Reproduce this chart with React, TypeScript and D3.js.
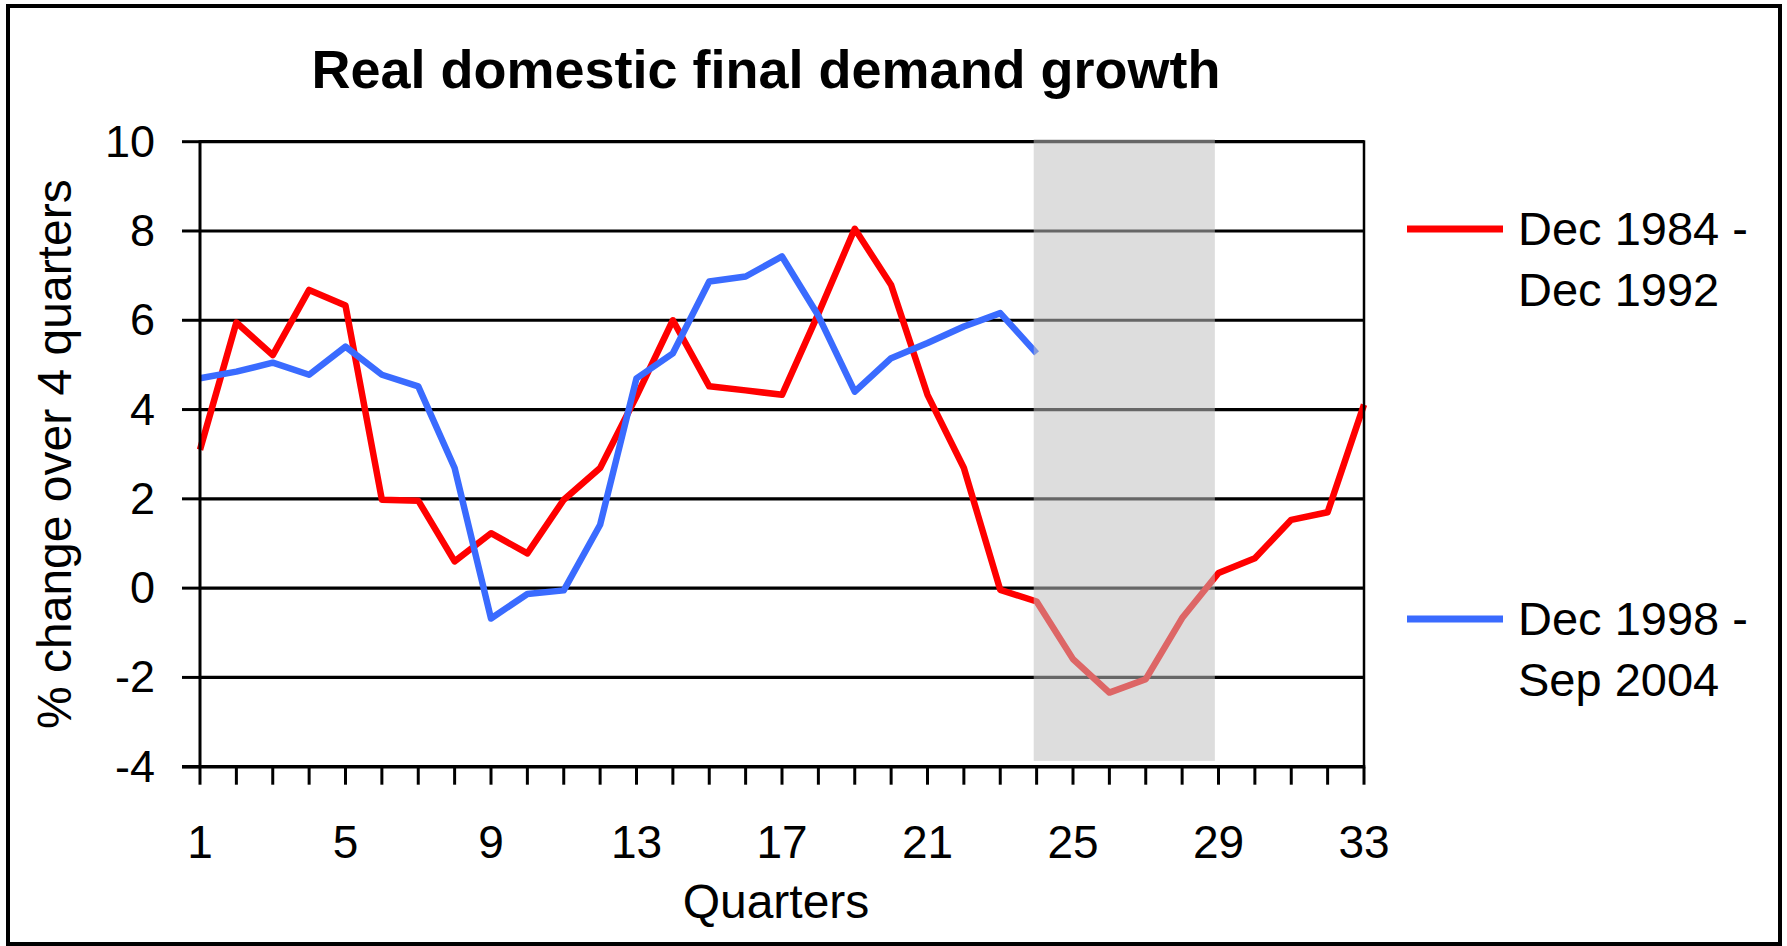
import React from "react";
import * as d3 from "d3";

const quarters = d3.range(1, 34);
const series1984Values = [
  3.1, 5.95, 5.22, 6.68, 6.33, 1.98, 1.96, 0.6, 1.23, 0.78, 1.98, 2.69, 4.3, 6.0, 4.52, 4.43, 4.33,
  6.15, 8.05, 6.79, 4.33, 2.69, -0.04, -0.3, -1.59, -2.34, -2.04, -0.67, 0.34, 0.67, 1.53, 1.7, 4.11,
];
const series1998Values = [
  4.7, 4.85, 5.05, 4.78, 5.41, 4.78, 4.52, 2.69, -0.68, -0.13, -0.05, 1.42, 4.7, 5.26, 6.87, 6.98,
  7.43, 6.1, 4.4, 5.15, 5.49, 5.86, 6.16, 5.26,
];
const yTicks = [-4, -2, 0, 2, 4, 6, 8, 10];
const xTickLabels = [1, 5, 9, 13, 17, 21, 25, 29, 33];
const shadeRange = [23.92, 28.9];
const shadeValueRange = [-3.87, 10.06];
const legendLabels = [
  ["Dec 1984 -", "Dec 1992"],
  ["Dec 1998 -", "Sep 2004"],
];
const seriesColors = ["#ff0000", "#3a6bff"];

const FONT = "'Liberation Sans', Arial, Helvetica, sans-serif";

export default function App() {
  const W = 1787;
  const H = 946;
  const left = 200;
  const right = 1364;
  const top = 141.7;
  const bottom = 766.7;

  const x = d3.scaleLinear().domain([1, 33]).range([left, right]);
  const y = d3.scaleLinear().domain([-4, 10]).range([bottom, top]);

  const line = d3
    .line<number>()
    .x((_, i) => x(quarters[i]))
    .y((d) => y(d));

  return (
    <svg
      width={W}
      height={H}
      style={{ position: "absolute", left: 0, top: 0, background: "#fff" }}
      fontFamily={FONT}
    >
      <rect x={0} y={0} width={W} height={H} fill="#fff" />
      <rect x={8} y={6} width={1772} height={938} fill="none" stroke="#000" strokeWidth={4} />

      <text x={766} y={88} textAnchor="middle" fontSize={54} fontWeight="bold" fill="#000">
        Real domestic final demand growth
      </text>

      {/* gridlines */}
      {yTicks
        .filter((t) => t > -4)
        .map((t) => (
          <line key={t} x1={left} x2={right} y1={y(t)} y2={y(t)} stroke="#000" strokeWidth={3.2} />
        ))}

      {/* series */}
      <path
        d={line(series1984Values) || ""}
        fill="none"
        stroke={seriesColors[0]}
        strokeWidth={6.5}
        strokeLinejoin="round"
      />
      <path
        d={line(series1998Values) || ""}
        fill="none"
        stroke={seriesColors[1]}
        strokeWidth={6.5}
        strokeLinejoin="round"
      />

      {/* shaded period */}
      <rect
        x={x(shadeRange[0])}
        y={y(shadeValueRange[1])}
        width={x(shadeRange[1]) - x(shadeRange[0])}
        height={y(shadeValueRange[0]) - y(shadeValueRange[1])}
        fill="rgb(191,191,191)"
        fillOpacity={0.533}
      />

      {/* axes */}
      <line x1={left} x2={left} y1={top - 1.5} y2={bottom} stroke="#000" strokeWidth={3} />
      <line x1={right} x2={right} y1={top - 1.5} y2={bottom} stroke="#000" strokeWidth={2.5} />
      <line x1={left - 18} x2={right + 1.25} y1={bottom} y2={bottom} stroke="#000" strokeWidth={3.5} />
      {yTicks.map((t) => (
        <g key={"yt" + t}>
          <line x1={left - 18} x2={left} y1={y(t)} y2={y(t)} stroke="#000" strokeWidth={3} />
          <text x={155} y={y(t) + 15} textAnchor="end" fontSize={45} fill="#000">
            {t}
          </text>
        </g>
      ))}
      {quarters.map((q) => (
        <line key={"xt" + q} x1={x(q)} x2={x(q)} y1={bottom} y2={bottom + 18} stroke="#000" strokeWidth={3} />
      ))}
      {xTickLabels.map((q) => (
        <text key={"xl" + q} x={x(q)} y={858} textAnchor="middle" fontSize={46} fill="#000">
          {q}
        </text>
      ))}

      <text x={776} y={918} textAnchor="middle" fontSize={48} fill="#000">
        Quarters
      </text>
      <text
        transform={`translate(71, ${(top + bottom) / 2}) rotate(-90)`}
        textAnchor="middle"
        fontSize={48}
        fill="#000"
      >
        % change over 4 quarters
      </text>

      {/* legend */}
      {legendLabels.map((lab, i) => {
        const ly = i === 0 ? 229 : 619;
        return (
          <g key={"lg" + i}>
            <line x1={1407} x2={1503} y1={ly} y2={ly} stroke={seriesColors[i]} strokeWidth={7} />
            <text x={1518} y={ly + 16} fontSize={47} fill="#000">
              {lab[0]}
            </text>
            <text x={1518} y={ly + 77} fontSize={47} fill="#000">
              {lab[1]}
            </text>
          </g>
        );
      })}
    </svg>
  );
}
